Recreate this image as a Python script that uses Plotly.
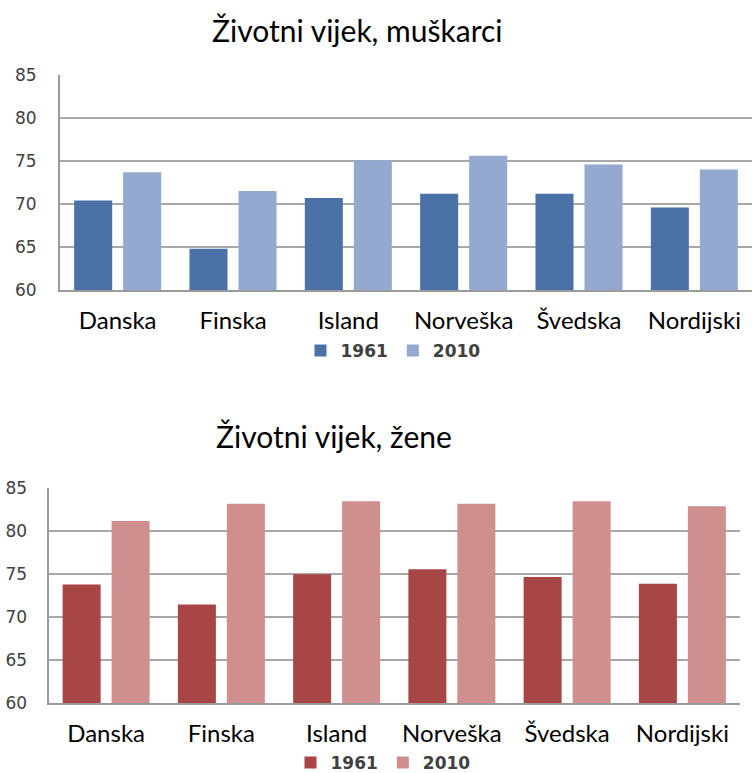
import plotly.graph_objects as go

countries = ["Danska", "Finska", "Island", "Norveška", "Švedska", "Nordijski"]
years = ["1961", "2010"]
men_1961 = [70.4, 64.8, 70.7, 71.2, 71.2, 69.6]
men_2010 = [73.7, 71.5, 75.1, 75.6, 74.6, 74.0]
women_1961 = [73.8, 71.5, 75.0, 75.6, 74.7, 73.9]
women_2010 = [81.2, 83.2, 83.5, 83.2, 83.5, 82.9]
title_men = "Životni vijek, muškarci"
title_women = "Životni vijek, žene"
y_ticks = [60, 65, 70, 75, 80, 85]

H = 773.0
W = 752.0

fig = go.Figure()
fig.add_trace(go.Bar(x=countries, y=men_1961, name=years[0], marker_color="#4a72a6",
                     xaxis="x", yaxis="y", legend="legend"))
fig.add_trace(go.Bar(x=countries, y=men_2010, name=years[1], marker_color="#93a9cf",
                     xaxis="x", yaxis="y", legend="legend"))
fig.add_trace(go.Bar(x=countries, y=women_1961, name=years[0], marker_color="#a84545",
                     xaxis="x2", yaxis="y2", legend="legend2"))
fig.add_trace(go.Bar(x=countries, y=women_2010, name=years[1], marker_color="#cf8f8f",
                     xaxis="x2", yaxis="y2", legend="legend2"))

for t in fig.data:
    t.marker.line.width = 0

tickfont_y = dict(family="DejaVu Sans", size=17, color="#404040")
tickfont_x = dict(family="Lato", size=24, color="#000000")
grid = dict(showgrid=True, gridcolor="#a8a8a8", gridwidth=1.5)
legfont = dict(family="DejaVu Sans", size=17, color="#404040", weight="bold")

fig.update_layout(
    width=752, height=773,
    margin=dict(l=0, r=0, t=0, b=0, autoexpand=False),
    paper_bgcolor="white", plot_bgcolor="white",
    barmode="group", bargap=0.15, bargroupgap=0.224,
    xaxis=dict(domain=[60 / W, 752 / W], anchor="y", type="category",
               showline=True, linecolor="#9a9a9a", linewidth=2,
               tickfont=tickfont_x, ticks="", showgrid=False, ticklabelstandoff=8),
    yaxis=dict(domain=[1 - 290 / H, 1 - 75 / H], anchor="x", range=[60, 85],
               tickvals=y_ticks, tickfont=tickfont_y, ticks="", ticklen=0,
               showline=True, linecolor="#9a9a9a", linewidth=2, zeroline=False,
               ticklabelstandoff=18, **grid),
    xaxis2=dict(domain=[48.5 / W, 740 / W], anchor="y2", type="category",
                showline=True, linecolor="#9a9a9a", linewidth=2,
                tickfont=tickfont_x, ticks="", showgrid=False, ticklabelstandoff=8),
    yaxis2=dict(domain=[1 - 703.3 / H, 1 - 488.3 / H], anchor="x2", range=[60, 85],
                tickvals=y_ticks, tickfont=tickfont_y, ticks="", ticklen=0,
                showline=True, linecolor="#9a9a9a", linewidth=2, zeroline=False,
                ticklabelstandoff=16, **grid),
    legend=dict(orientation="h", x=393 / W, y=1 - 351 / H, xanchor="center", yanchor="middle",
                font=legfont, bgcolor="rgba(0,0,0,0)", itemwidth=30, traceorder="normal"),
    legend2=dict(orientation="h", x=383 / W, y=1 - 763 / H, xanchor="center", yanchor="middle",
                 font=legfont, bgcolor="rgba(0,0,0,0)", itemwidth=30, traceorder="normal"),
    annotations=[
        dict(text=title_men, xref="paper", yref="paper", x=357 / W, y=1 - 30 / H,
             showarrow=False, xanchor="center", yanchor="middle",
             font=dict(family="Lato", size=30, color="#000000")),
        dict(text=title_women, xref="paper", yref="paper", x=334 / W, y=1 - 436 / H,
             showarrow=False, xanchor="center", yanchor="middle",
             font=dict(family="Lato", size=30, color="#000000")),
    ],
)

page_fix = (
    "document.documentElement.style.margin='0';"
    "document.documentElement.style.padding='0';"
    "document.documentElement.style.overflow='hidden';"
    "document.body.style.margin='0';"
    "document.body.style.padding='0';"
    "document.body.style.overflow='hidden';"
)

fig.write_html("out.html", config={"displayModeBar": False}, post_script=page_fix)
